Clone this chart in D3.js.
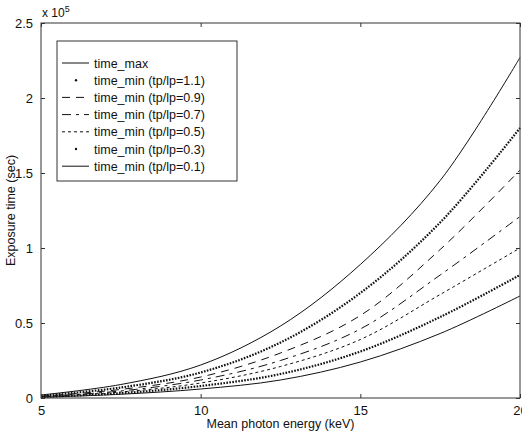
<!DOCTYPE html>
<html>
<head>
<meta charset="utf-8">
<script src="https://cdn.jsdelivr.net/npm/d3@7"></script>
<style>
  body { margin: 0; background: #fff; }
  svg { display: block; font-family: "Liberation Sans", Arial, sans-serif; }
</style>
</head>
<body>
<svg id="chart" width="522" height="434"></svg>
<script>
// photon energy (keV)
var energy = [5, 7.5, 10, 12.5, 15, 17.5, 20];
// exposure time, units of 1e5 sec
var timeMax   = [0.02, 0.09, 0.22, 0.48, 0.89, 1.45, 2.27];
var timeMin11 = [0.015, 0.07, 0.17, 0.37, 0.70, 1.17, 1.80];
var timeMin09 = [0.012, 0.057, 0.14, 0.30, 0.55, 0.99, 1.52];
var timeMin07 = [0.010, 0.047, 0.12, 0.25, 0.46, 0.82, 1.21];
var timeMin05 = [0.009, 0.040, 0.10, 0.21, 0.39, 0.69, 1.00];
var timeMin03 = [0.007, 0.032, 0.08, 0.16, 0.31, 0.54, 0.82];
var timeMin01 = [0.005, 0.025, 0.06, 0.12, 0.24, 0.43, 0.68];

var seriesNames = ["time_max", "time_min (tp/lp=1.1)", "time_min (tp/lp=0.9)",
  "time_min (tp/lp=0.7)", "time_min (tp/lp=0.5)", "time_min (tp/lp=0.3)", "time_min (tp/lp=0.1)"];
var seriesValues = [timeMax, timeMin11, timeMin09, timeMin07, timeMin05, timeMin03, timeMin01];

var xTicks = [5, 10, 15, 20];
var yTicks = [0, 0.5, 1, 1.5, 2, 2.5];

// line styles: [dasharray, width]
var styles = [
  [null, 1],
  ["1.6,1.4", 2.2],
  ["8,6", 1],
  ["9,5,3,5", 1],
  ["3,3", 1],
  ["1.6,1.4", 2.2],
  [null, 1]
];

var svg = d3.select("#chart");
var mLeft = 41, mRight = 520, mTop = 23, mBottom = 398;

var x = d3.scaleLinear().domain([5, 20]).range([mLeft, mRight]);
var y = d3.scaleLinear().domain([0, 2.5]).range([mBottom, mTop]);

var line = d3.line()
    .x(function(d, i) { return x(energy[i]); })
    .y(function(d) { return y(d); })
    .curve(d3.curveCatmullRom);

svg.append("g")
  .selectAll("path")
  .data(seriesValues)
  .enter().append("path")
    .attr("d", function(d) { return line(d); })
    .attr("fill", "none")
    .attr("stroke", "#111")
    .attr("stroke-width", function(d, i) { return styles[i][1]; })
    .attr("stroke-dasharray", function(d, i) { return styles[i][0]; });

// axes box
svg.append("rect")
    .attr("x", mLeft).attr("y", mTop)
    .attr("width", mRight - mLeft).attr("height", mBottom - mTop)
    .attr("fill", "none").attr("stroke", "#333").attr("stroke-width", 1);

// ticks inward, all 4 sides
var gx = svg.append("g").attr("transform", "translate(0," + mBottom + ")")
    .call(d3.axisBottom(x).tickValues(xTicks).tickSizeInner(-4).tickSizeOuter(0).tickPadding(8).tickFormat(d3.format("d")));
var gxt = svg.append("g").attr("transform", "translate(0," + mTop + ")")
    .call(d3.axisTop(x).tickValues(xTicks).tickSizeInner(-4).tickSizeOuter(0).tickFormat(""));
var gy = svg.append("g").attr("transform", "translate(" + mLeft + ",0)")
    .call(d3.axisLeft(y).tickValues(yTicks).tickSizeInner(-4).tickSizeOuter(0).tickPadding(8).tickFormat(function(d) { return d; }));
var gyr = svg.append("g").attr("transform", "translate(" + mRight + ",0)")
    .call(d3.axisRight(y).tickValues(yTicks).tickSizeInner(-4).tickSizeOuter(0).tickFormat(""));

[gx, gxt, gy, gyr].forEach(function(g) {
  g.select(".domain").remove();
  g.selectAll("line").attr("stroke", "#333");
  g.selectAll("text").attr("fill", "#111").style("font-size", "13px").style("font-family", "Liberation Sans, Arial, sans-serif");
});

// exponent label
var expo = svg.append("text").attr("x", 42).attr("y", 17)
    .attr("fill", "#111").style("font-size", "12px");
expo.append("tspan").text("x 10");
expo.append("tspan").attr("dy", -5).style("font-size", "9px").text("5");

// axis titles
svg.append("text")
    .attr("x", (mLeft + mRight) / 2).attr("y", 428)
    .attr("text-anchor", "middle").attr("fill", "#111")
    .style("font-size", "12.5px")
    .text("Mean photon energy (keV)");

svg.append("text")
    .attr("transform", "translate(15," + ((mTop + mBottom) / 2) + ") rotate(-90)")
    .attr("text-anchor", "middle").attr("fill", "#111")
    .style("font-size", "12.5px")
    .text("Exposure time (sec)");

// legend
var lg = svg.append("g");
lg.append("rect")
    .attr("x", 57).attr("y", 41).attr("width", 180).attr("height", 140)
    .attr("fill", "#fff").attr("stroke", "#333").attr("stroke-width", 1);

var rows = lg.selectAll("g.row")
  .data(seriesNames)
  .enter().append("g")
    .attr("class", "row")
    .attr("transform", function(d, i) { return "translate(0," + (63 + i * 17.2) + ")"; });

rows.each(function(d, i) {
  var r = d3.select(this);
  if (i === 1 || i === 5) {
    r.append("circle").attr("cx", 76).attr("cy", 0).attr("r", 1.2).attr("fill", "#111");
  } else {
    r.append("line")
      .attr("x1", 62).attr("x2", 89).attr("y1", 0).attr("y2", 0)
      .attr("stroke", "#111").attr("stroke-width", 1)
      .attr("stroke-dasharray", styles[i][0]);
  }
  r.append("text").attr("x", 94).attr("y", 4.5)
    .attr("fill", "#111").style("font-size", "12.5px").text(d);
});
</script>
</body>
</html>
